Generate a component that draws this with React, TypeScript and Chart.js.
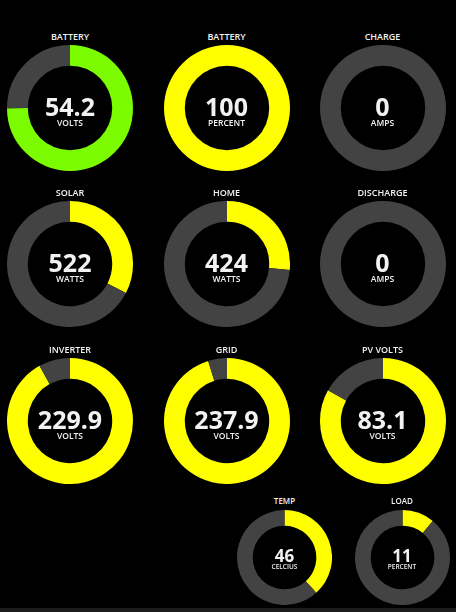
import React, { useEffect, useRef } from "react";
import { Chart, registerables } from "chart.js";

Chart.register(...registerables);

// ---- data ----
const titles = ["BATTERY", "BATTERY", "CHARGE", "SOLAR", "HOME", "DISCHARGE", "INVERTER", "GRID", "PV VOLTS", "TEMP", "LOAD"];
const values = [54.2, 100, 0, 522, 424, 0, 229.9, 237.9, 83.1, 46, 11];
const maxima = [72.3, 100, 20, 1600, 1600, 20, 250, 250, 100, 120, 100];
const units = ["VOLTS", "PERCENT", "AMPS", "WATTS", "WATTS", "AMPS", "VOLTS", "VOLTS", "VOLTS", "CELCIUS", "PERCENT"];
const fillColors = ["#7cfc00", "#ffff00", "#ffff00", "#ffff00", "#ffff00", "#ffff00", "#ffff00", "#ffff00", "#ffff00", "#ffff00", "#ffff00"];
const trackColor = "#434343";

// ---- layout (positions only) ----
type Slot = { cx: number; cy: number; r: number; small: boolean };
const slots: Slot[] = [
  { cx: 70, cy: 108, r: 63, small: false },
  { cx: 226.5, cy: 108, r: 63, small: false },
  { cx: 382.5, cy: 108, r: 63, small: false },
  { cx: 70, cy: 264, r: 63, small: false },
  { cx: 226.5, cy: 264, r: 63, small: false },
  { cx: 382.5, cy: 264, r: 63, small: false },
  { cx: 70, cy: 421, r: 63, small: false },
  { cx: 226.5, cy: 421, r: 63, small: false },
  { cx: 382.5, cy: 421, r: 63, small: false },
  { cx: 284.5, cy: 557, r: 47.5, small: true },
  { cx: 402, cy: 557, r: 47.5, small: true },
];

const FONT = "'Open Sans', 'Noto Sans', sans-serif";

function Gauge({ i }: { i: number }) {
  const ref = useRef<HTMLCanvasElement>(null);
  const s = slots[i];
  useEffect(() => {
    if (!ref.current) return;
    const v = values[i];
    const m = maxima[i];
    const chart = new Chart(ref.current, {
      type: "doughnut",
      data: {
        labels: ["value", "rest"],
        datasets: [
          {
            data: [v, Math.max(m - v, 0)],
            backgroundColor: [fillColors[i], trackColor],
            hoverBackgroundColor: [fillColors[i], trackColor],
            borderWidth: 0,
            hoverBorderWidth: 0,
            hoverOffset: 0,
          },
        ],
      },
      options: {
        responsive: false,
        animation: false,
        cutout: "67%",
        layout: { padding: 0 },
        events: [],
        plugins: { legend: { display: false }, tooltip: { enabled: false }, title: { display: false } },
      },
    });
    return () => chart.destroy();
  }, [i]);

  const size = Math.round(s.r * 2);
  const valSize = s.small ? 17 : 25;
  const unitSize = s.small ? 6.5 : 8.5;
  const titleSize = s.small ? 8 : 9;
  const titleOff = s.small ? -56 : -72;
  const valOff = -2;
  const unitOff = s.small ? 10 : 15;
  const textStyle = (y: number, fs: number, weight: number): React.CSSProperties => ({
    position: "absolute",
    left: s.cx - 60,
    width: 120,
    top: y - fs / 2,
    height: fs,
    lineHeight: `${fs}px`,
    fontSize: fs,
    fontWeight: weight,
    fontFamily: FONT,
    color: "#f2f2f2",
    textAlign: "center",
    whiteSpace: "nowrap",
  });
  return (
    <>
      <canvas
        ref={ref}
        width={size}
        height={size}
        style={{ position: "absolute", left: s.cx - size / 2, top: s.cy - size / 2, width: size, height: size }}
      />
      <div style={textStyle(s.cy + titleOff, titleSize, 600)}>{titles[i]}</div>
      <div style={textStyle(s.cy + valOff, valSize, 700)}>{values[i]}</div>
      <div style={textStyle(s.cy + unitOff, unitSize, 600)}>{units[i]}</div>
    </>
  );
}

export default function App() {
  useEffect(() => {
    document.body.style.margin = "0";
    document.body.style.background = "#000";
  }, []);
  return (
    <div style={{ position: "fixed", left: 0, top: 0, width: 456, height: 612, background: "#000", overflow: "hidden" }}>
      {titles.map((_, i) => (
        <Gauge key={i} i={i} />
      ))}
      <div style={{ position: "absolute", left: 0, top: 608, width: 456, height: 4, background: "#1c1c1c" }} />
    </div>
  );
}
